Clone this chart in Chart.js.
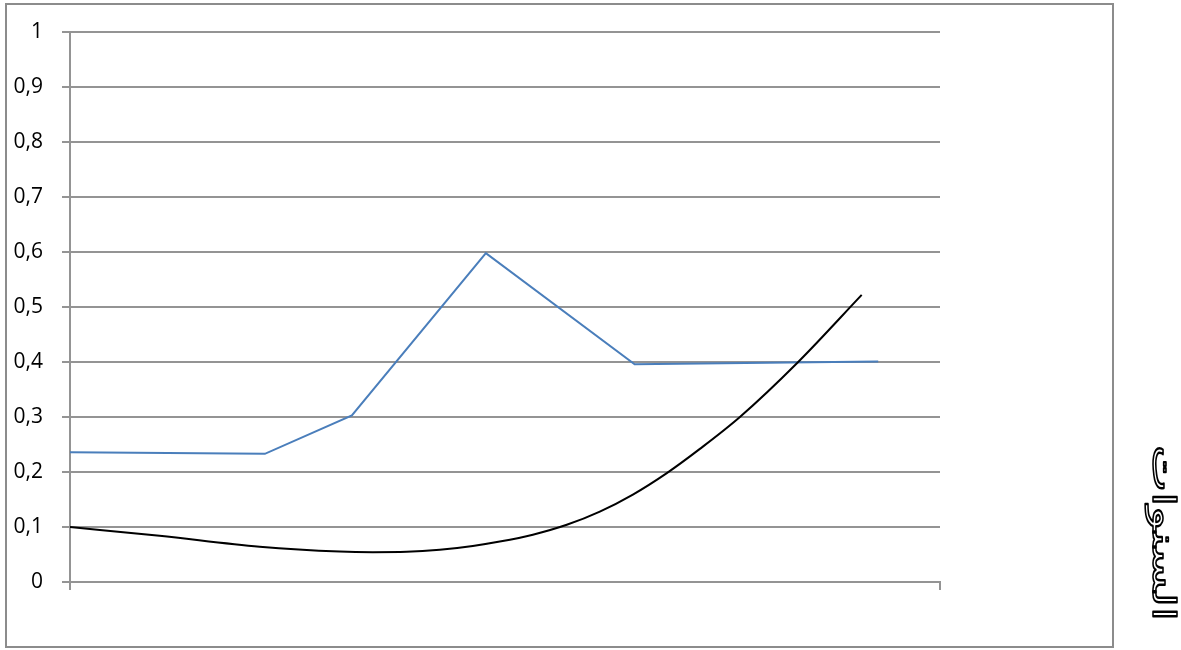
<!DOCTYPE html>
<html>
<head>
<meta charset="utf-8">
<script src="https://cdn.jsdelivr.net/npm/chart.js@4.4.1/dist/chart.umd.min.js"></script>
<style>
  html, body { margin: 0; padding: 0; background: #ffffff; }
  #wrap { width: 1181px; height: 650px; position: relative; }
</style>
</head>
<body>
<div id="wrap"><canvas id="c" width="1181" height="650"></canvas></div>
<script>
// Observed series (blue polyline)
const obsX = [0, 2.24, 3.24, 4.78, 6.49, 9.29];
const obsY = [0.236, 0.233, 0.303, 0.598, 0.396, 0.401];

// Trend curve (black), sampled along its length
const trendX = [0, 1.03, 2.18, 3.10, 3.48, 3.87, 4.25, 4.63, 4.94, 5.32, 5.71, 6.09, 6.47, 6.86, 7.24, 7.70, 8.37, 9.10];
const trendY = [0.100, 0.0840, 0.0642, 0.0553, 0.0542, 0.0548, 0.0585, 0.0655, 0.0735, 0.0860, 0.104, 0.128, 0.159, 0.198, 0.242, 0.300, 0.400, 0.522];

// Vertical axis tick labels (0 .. 1 step 0.1)
const yTickLabels = ['0', '0,1', '0,2', '0,3', '0,4', '0,5', '0,6', '0,7', '0,8', '0,9', '1'];

// Side caption
const sideTitle = 'السنوات';

const toPts = (xs, ys) => xs.map((x, i) => ({ x: x, y: ys[i] }));

const GRID = '#949494';

const framePlugin = {
  id: 'frame',
  beforeDraw(chart) {
    const ctx = chart.ctx;
    ctx.save();
    ctx.fillStyle = '#ffffff';
    ctx.fillRect(0, 0, chart.width, chart.height);
    ctx.strokeStyle = '#8c8c8c';
    ctx.lineWidth = 2;
    ctx.strokeRect(6, 4, 1107, 643);
    ctx.restore();
  },
  afterDraw(chart) {
    const ctx = chart.ctx;
    ctx.save();
    ctx.translate(1161, 533);
    ctx.rotate(Math.PI / 2);
    ctx.font = '32px "DejaVu Sans"';
    ctx.textAlign = 'center';
    ctx.textBaseline = 'middle';
    ctx.direction = 'rtl';
    const w = ctx.measureText(sideTitle).width;
    ctx.scale(176 / w, 1);
    ctx.lineJoin = 'round';
    ctx.lineWidth = 1.6;
    ctx.strokeStyle = '#000000';
    ctx.fillStyle = '#ffffff';
    ctx.fillText(sideTitle, 0, 0);
    ctx.strokeText(sideTitle, 0, 0);
    ctx.restore();
  }
};

new Chart(document.getElementById('c'), {
  type: 'scatter',
  data: {
    datasets: [
      {
        label: 'obs',
        data: toPts(obsX, obsY),
        showLine: true,
        borderColor: '#4a7ebb',
        borderWidth: 2,
        pointRadius: 0,
        tension: 0,
        order: 2
      },
      {
        label: 'trend',
        data: toPts(trendX, trendY),
        showLine: true,
        borderColor: '#000000',
        borderWidth: 2,
        pointRadius: 0,
        cubicInterpolationMode: 'monotone',
        order: 1
      }
    ]
  },
  options: {
    responsive: false,
    animation: false,
    devicePixelRatio: 1,
    layout: { padding: { top: 32, right: 241, left: 0, bottom: 0 } },
    plugins: {
      legend: { display: false },
      tooltip: { enabled: false }
    },
    scales: {
      x: {
        type: 'linear',
        min: 0,
        max: 10,
        afterFit(scale) { scale.height = 68; },
        afterBuildTicks(scale) { scale.ticks = [{ value: 0 }, { value: 10 }]; },
        grid: {
          drawOnChartArea: false,
          drawTicks: true,
          tickLength: 8,
          color: GRID,
          lineWidth: 2
        },
        border: { display: true, color: GRID, width: 2 },
        ticks: { callback: () => '', padding: 0 }
      },
      y: {
        type: 'linear',
        min: 0,
        max: 1,
        afterFit(scale) { scale.width = 70; },
        grid: {
          color: GRID,
          lineWidth: 2,
          tickLength: 8
        },
        border: { display: true, color: GRID, width: 2 },
        ticks: {
          stepSize: 0.1,
          padding: 19,
          color: '#000000',
          font: { family: '"Open Sans"', size: 21 },
          callback: (v) => yTickLabels[Math.round(v * 10)]
        }
      }
    }
  },
  plugins: [framePlugin]
});
</script>
</body>
</html>
